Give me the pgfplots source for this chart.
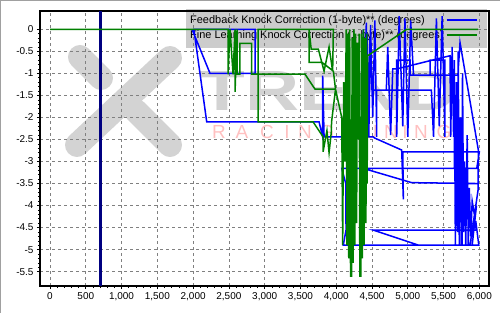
\documentclass[border=0pt]{standalone}
\usepackage{fontspec}
\setmainfont{Liberation Sans}
\usepackage{pgfplots}
\pgfplotsset{compat=1.18}
\definecolor{wmgray}{RGB}{211,211,211}
\definecolor{wmpink}{RGB}{255,192,192}
\definecolor{fkblue}{RGB}{0,0,255}
\definecolor{flgreen}{RGB}{0,128,0}
\definecolor{navyc}{RGB}{0,0,128}
\definecolor{leggray}{RGB}{204,204,204}
\definecolor{gridgray}{RGB}{128,128,128}
\definecolor{framegray}{RGB}{160,160,160}
\begin{document}
\begin{tikzpicture}
\useasboundingbox (0,0) rectangle (500bp,313bp);
\draw[framegray, line width=1bp] (0.5bp,0bp) -- (0.5bp,312.5bp) -- (500bp,312.5bp);
% watermark and legend box (beneath grid and data)
\begin{scope}[x=1bp,y=-1bp,shift={(0bp,313bp)}]
\draw[wmgray, line width=24bp, line cap=round] (170,58) -- (77,145);
\draw[wmgray, line width=24bp, line cap=round] (80,57) -- (101,78);
\draw[wmgray, line width=24bp, line cap=round] (136,111) -- (170,145);
\node[wmgray, inner sep=0] at (329,91) {\resizebox{258bp}{39bp}{\bfseries TREND}};
\foreach \c/\xx in {R/219, A/242, C/267, I/287, N/305, G/327, T/354, U/371, N/391, I/405, N/421, G/444}
  \node[wmpink, inner sep=0, font=\fontsize{19}{19}\selectfont] at (\xx,132) {\c};
\fill[leggray] (186,9) rectangle (487,48);
\node[anchor=base west, inner sep=0, font=\fontsize{11}{13}\selectfont] at (190,24) {Feedback Knock Correction (1-byte)** (degrees)};
\node[anchor=base west, inner sep=0, font=\fontsize{11}{13}\selectfont] at (190,39) {Fine Learning Knock Correction (1-byte)** (degrees)};
\draw[fkblue, line width=1.8bp] (446.7,20) -- (476.7,20);
\draw[flgreen, line width=1.8bp] (446.7,35) -- (476.7,35);
\end{scope}
\begin{axis}[at={(40bp,27bp)}, anchor=south west, scale only axis,
  width=449bp, height=275bp,
  xmin=-140, xmax=6135, ymin=-5.825, ymax=0.415,
  axis line style={black, line width=1.8bp},
  xtick={0,500,...,6000}, ytick={-5.5,-5,-4.5,-4,-3.5,-3,-2.5,-2,-1.5,-1,-0.5,0},
  minor x tick num=4, minor y tick num=4,
  tick align=outside, xtick pos=bottom, ytick pos=left,
  major tick length=3bp, minor tick length=2bp,
  tick style={black, line width=0.6bp},
  grid=major, major grid style={gridgray, line width=0.8bp, dash pattern=on 3bp off 3bp},
  tick label style={font=\fontsize{10}{12}\selectfont},
  /pgf/number format/assume math mode=true,
  scaled x ticks=false, scaled y ticks=false,
]
\addplot[navyc, line width=2.6bp] coordinates {(703,-5.825) (703,0.415)};
\addplot[fkblue, line width=1.5bp] coordinates {
(1985,0) (2236,-1.0) (2865,-1.0) (2865,0) (2010,0) (2190,-2.10) (3760,-2.10)
(3811,-2.44) (3811,-1.05) (3830,-2.44) (4514,-2.44) (4540,-2.47) (4915,-2.74)
(4938,-3.86) (4930,-2.78) (6000,-2.78) (5964,-3.155) (4077,-3.155) (4133,-3.50)
(4137,-4.555) (4099,-4.895) (5992,-4.895) (5950,-4.35) (5954,-4.555) (4514,-4.555)
(5143,-4.895) (5760,-4.895) (5760,-3.50) (5978,-3.50) (5055,-3.48) (4375,-3.155)
(5650,-3.155)
(5650,-0.70) (5665,-4.90) (5680,-1.20) (5695,-4.60) (5705,-0.50) (5720,-4.90)
(5735,-2.00) (5750,-4.90) (5765,-1.00) (5780,-4.60) (5795,-3.00) (5810,-4.90)
(5830,-2.40) (5845,-4.90) (5860,-3.60) (5880,-4.70) (5900,-3.90) (5940,-4.30)
(5960,-4.00) (5900,-4.90) (5870,-4.90) (5982,-3.65) (5986,-2.74) (5730,-0.30)
(5700,-1.04) (5031,-1.04) (5031,-0.70) (4845,-0.70) (4845,-2.44) (4880,0.30)
(4930,-2.20) (4960,0.25) (5000,-2.44) (5040,0.20) (5080,-1.04)
(5311,-1.04) (5311,-0.70) (5520,-0.70) (5520,-2.44) (5480,0.30) (5440,-2.20)
(5400,0.25) (5360,-2.44) (5330,-1.38) (4566,-1.38) (4566,-2.44) (4540,0.20)
(4510,-2.00) (4480,0.10) (4455,-2.44) (4430,-0.10) (4400,-1.60) (4380,0.0)
(4400,-2.44) (4420,0.15) (4445,-2.30) (4470,-0.20) (4500,-1.38)
(4700,-1.38) (4720,-0.40) (4760,-2.40) (4790,-0.90) (4845,-0.90)
(5590,-0.60) (5600,-2.44) (5620,-0.40) (5640,-2.44)
};
\addplot[flgreen, line width=1.5bp] coordinates {
(0,0) (2488,0) (2488,-1.02) (2516,0) (2558,-1.02) (2586,0) (2586,-1.42) (2614,0)
(2614,-1.02) (2655,-1.02) (2655,-0.32) (2818,-0.32) (2818,-1.02) (3564,-1.02)
(3704,-1.36) (3990,-1.36) (3960,-0.95) (3800,-0.75) (3620,-0.75) (3620,0)
(3650,-0.45) (3750,-0.45) (3830,-0.95) (3900,-0.40) (3950,-0.95) (3960,0)
(2907,0) (2907,-2.10) (3676,-2.10) (3816,-2.44) (3816,-2.78) (3870,-2.30)
(3900,-2.80) (3930,-2.35) (3935,-2.10) (3990,-1.36)
(4077,-2.0) (4090,-4.9) (4105,-1.2) (4120,-3.0) (4140,0) (4150,-4.9) (4162,-0.1)
(4175,-5.2) (4188,0) (4200,-5.6) (4215,-5.6) (4222,-0.2) (4235,-5.3) (4248,0)
(4260,-4.9) (4272,-0.1) (4285,-4.4) (4295,-0.3) (4300,-2.5) (4320,-0.1)
(4330,-5.6) (4345,-5.6) (4352,-0.1) (4365,-5.2) (4378,0) (4390,-4.9) (4402,-0.2)
(4415,-4.4) (4425,-0.1) (4432,-3.5) (4440,-0.6)
(4985,0) (5980,0)
};
\end{axis}
\end{tikzpicture}
\end{document}
